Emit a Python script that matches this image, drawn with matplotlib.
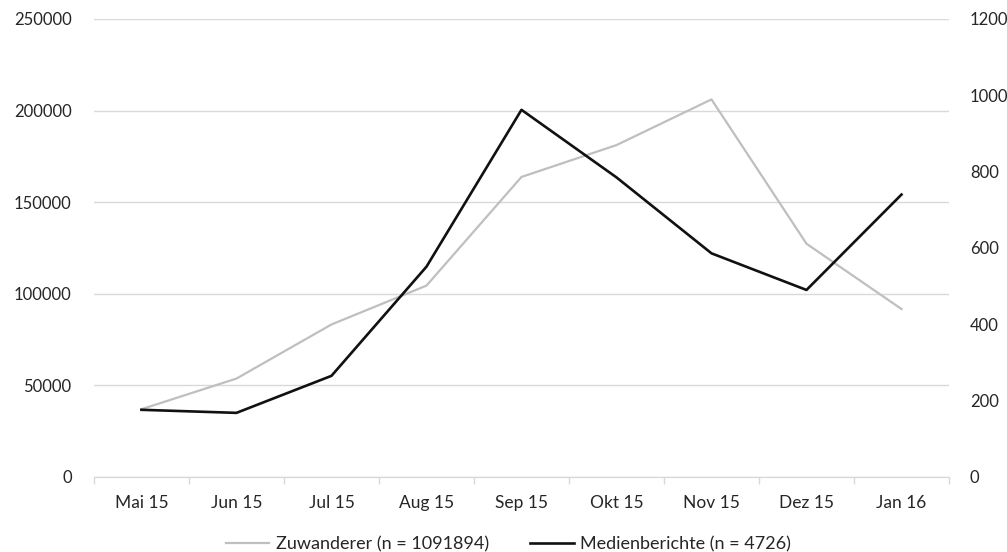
import numpy as np
import matplotlib
matplotlib.use("Agg")
import matplotlib.pyplot as plt
from matplotlib.ticker import MultipleLocator, FixedLocator, NullFormatter

plt.rcParams['font.family'] = ['Lato', 'DejaVu Sans']

# Monatswerte
monate = ['Mai 15', 'Jun 15', 'Jul 15', 'Aug 15', 'Sep 15',
          'Okt 15', 'Nov 15', 'Dez 15', 'Jan 16']
zuwanderer = [37000, 53721, 83245, 104460, 163772, 181166, 206101, 127320, 91671]
medienberichte = [176, 168, 265, 551, 962, 785, 586, 490, 740]

label_zuw = 'Zuwanderer (n = 1091894)'
label_med = 'Medienberichte (n = 4726)'

GRID = '#d9d9d9'
TXT = '#262626'

fig = plt.figure(figsize=(10.07, 5.52), dpi=100)
ax = fig.add_axes([0.0933, 0.1359, 0.8491, 0.8297])
ax2 = ax.twinx()

x = np.arange(len(monate))
l1, = ax.plot(x, zuwanderer, color='#bfbfbf', lw=1.6, label=label_zuw, zorder=3)
l2, = ax2.plot(x, medienberichte, color='#111111', lw=1.9, label=label_med, zorder=3)

# linke Achse
ax.set_xlim(-0.5, len(monate) - 0.5)
ax.set_ylim(0, 250000)
ax.yaxis.set_major_locator(MultipleLocator(50000))
ax.grid(axis='y', color=GRID, lw=1.0)
ax.set_axisbelow(True)

# rechte Achse
ax2.set_ylim(0, 1200)
ax2.yaxis.set_major_locator(MultipleLocator(200))

for a in (ax, ax2):
    for s in ('top', 'left', 'right'):
        a.spines[s].set_visible(False)
    a.spines['bottom'].set_color(GRID)
    a.tick_params(axis='y', length=0, labelsize=12, labelcolor=TXT)
ax.tick_params(axis='y', pad=16)
ax2.tick_params(axis='y', pad=15)

# Monatsnamen mittig, Teilstriche zwischen den Monaten
ax.set_xticks(x)
ax.set_xticklabels(monate)
ax.tick_params(axis='x', which='major', length=0, pad=13, labelsize=12.5, labelcolor=TXT)
ax.xaxis.set_minor_locator(FixedLocator(np.arange(-0.5, len(monate), 1.0)))
ax.xaxis.set_minor_formatter(NullFormatter())
ax.tick_params(axis='x', which='minor', length=5, color=GRID, width=1.0)

fig.legend(handles=[l1, l2], loc='lower center', bbox_to_anchor=(0.505, -0.03),
           ncol=2, frameon=False, fontsize=13, handlelength=2.4,
           handletextpad=0.35, columnspacing=2.3, labelcolor=TXT)

fig.savefig('out.png', dpi=100, facecolor='white')
